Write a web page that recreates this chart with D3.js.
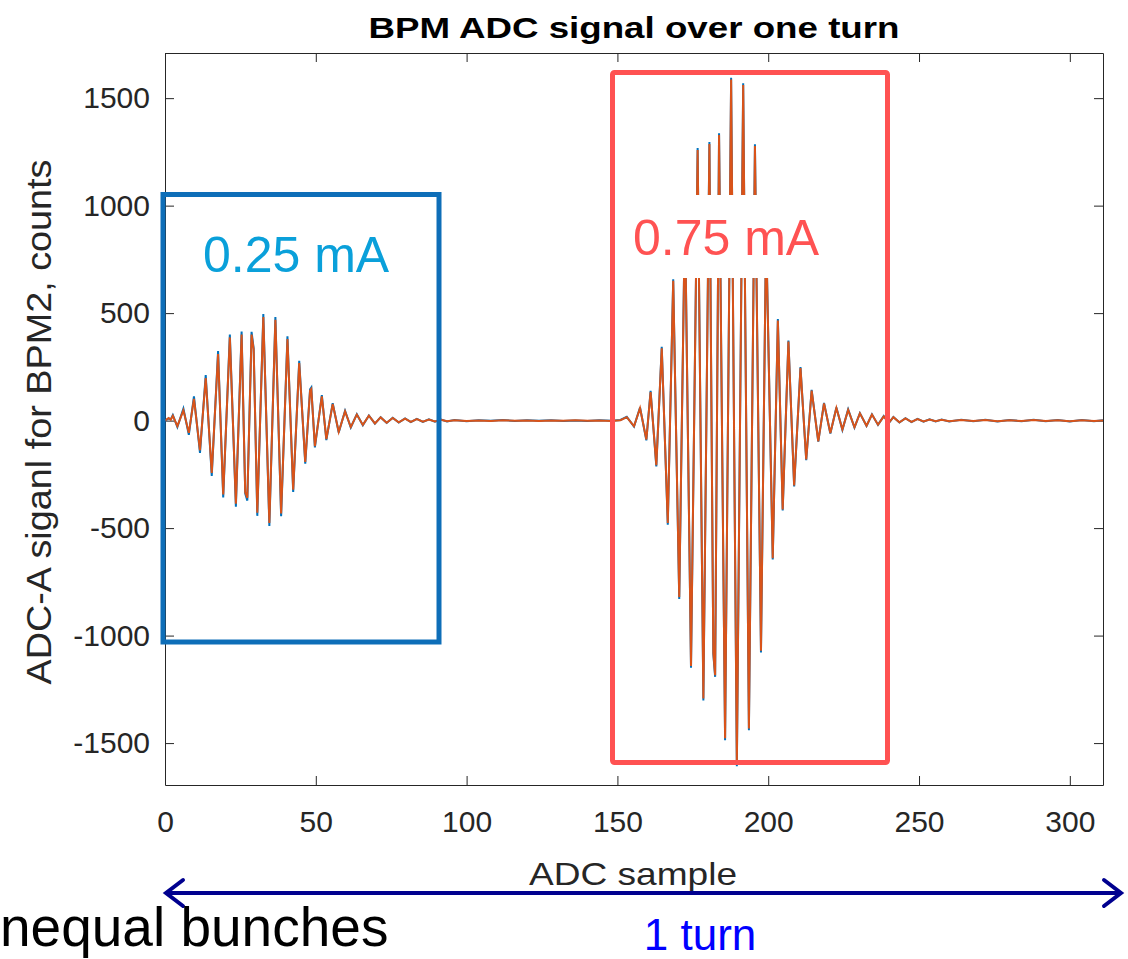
<!DOCTYPE html>
<html>
<head>
<meta charset="utf-8">
<script src="https://cdn.jsdelivr.net/npm/d3@7"></script>
<style>
  body { margin: 0; background: #fff; }
  svg { display: block; font-family: "Liberation Sans", Arial, sans-serif; }
</style>
</head>
<body>
<div id="chart"></div>
<script>
// vertices of the trace (ADC sample index)
const samples = [
  0, 1.2, 1.9, 2.6, 4.1, 6.1, 7.9, 9.6, 11.6, 13.5,
  15.5, 17.6, 19.3, 21.5, 23.5, 25.4, 26.6, 27.3, 28.7, 29.4,
  30.6, 32.6, 34.6, 36.6, 38.5, 40.6, 42.5, 44.5, 46.5, 48.1,
  48.5, 49.7, 52, 53.5, 55.6, 57.6, 59.7, 61.6, 63.6, 65.6,
  67.6, 69.6, 71.5, 73.5, 75.5, 77.5, 79.6, 81.5, 83.5, 85.5,
  87.5, 89.5, 91.5, 93.5, 96, 100, 104, 108, 112, 116,
  120, 124, 128, 132, 136, 140, 144, 148, 151, 153.1,
  155.5, 157.5, 159.6, 161, 162.9, 164.7, 166.7, 168.5, 170.5, 172.4,
  174.4, 176.6, 178.5, 180.5, 181.8, 182.4, 183.7, 185.7, 187.7, 189.6,
  191.7, 193.6, 195.6, 197.6, 199.3, 201.5, 203.2, 204.8, 206.7, 208.6,
  210.7, 212.6, 214.4, 216.6, 218.5, 220.6, 222.6, 224.6, 226.5, 228.6,
  230.4, 232.6, 234.4, 236.4, 238.3, 240, 241.5, 243.5, 245.5, 247.5,
  249.5, 251.5, 253.5, 255.5, 257.5, 260, 264, 268, 272, 276,
  280, 284, 288, 292, 296, 300, 304, 308, 311
];

// ADC-A counts, first trace (blue)
const adcBlue = [
  0, 10, 6, 26, -30, 56, -66, 113, -150, 212,
  -257, 324, -358, 400, -400, 414, -340, -372, 413, 336,
  -443, 496, -490, 482, -445, 392, -332, 278, -200, 146,
  154, -125, 119, -91, 81, -55, 46, -32, 30, -22,
  24, -14, 16, -11, 13, -9, 10, -7, 8, -6,
  6, -5, 5, -4, 3, -3, 2, -1, 3, -2,
  2, -1, 2, -2, 1, -2, 2, -1, 3, 18,
  -28, 61, -92, 138, -213, 343, -484, 658, -830, 968,
  -1150, 1268, -1302, 1296, -1086, -1192, 1337, -1487, 1595, -1608,
  1569, -1440, 1285, -1079, 886, -646, 472, -418, 373, -306,
  249, -184, 143, -98, 82, -60, 61, -43, 52, -32,
  35, -25, 29, -20, 21, -11, 17, -9, 11, -7,
  8, -5, 6, -4, 5, -4, 4, -3, 4, -4,
  3, -3, 4, -3, 3, -4, 3, -3, 2
];

// ADC-A counts, second trace (orange)
const adcOrange = [
  0, 12, 4, 22, -26, 48, -57, 101, -138, 198,
  -243, 310, -344, 387, -387, 400, -333, -359, 400, 330,
  -429, 482, -476, 469, -432, 380, -321, 268, -192, 140,
  147, -119, 113, -86, 77, -52, 43, -30, 28, -20,
  23, -13, 15, -10, 12, -8, 9, -6, 7, -5,
  5, -4, 4, -3, 2, -2, 1, -2, 2, -1,
  1, -2, 1, -1, 2, -1, 1, -2, 2, 16,
  -26, 58, -88, 133, -207, 336, -476, 650, -821, 960,
  -1141, 1259, -1293, 1287, -1080, -1184, 1328, -1478, 1587, -1600,
  1561, -1432, 1277, -1071, 880, -640, 466, -413, 368, -302,
  245, -181, 140, -96, 80, -58, 59, -41, 50, -31,
  34, -24, 28, -19, 20, -10, 16, -8, 10, -6,
  7, -4, 5, -3, 4, -3, 3, -2, 3, -3,
  2, -2, 3, -2, 2, -3, 2, -2, 1
];

const xTicks = [0, 50, 100, 150, 200, 250, 300];
const yTicks = [-1500, -1000, -500, 0, 500, 1000, 1500];

const width = 1128, height = 959;
const plotLeft = 165, plotRight = 1103, plotTop = 53, plotBottom = 785;
const axisColor = "#262626";

const svg = d3.select("#chart")
    .append("svg")
    .attr("width", width)
    .attr("height", height);

const x = d3.scaleLinear()
    .domain([0, 311])
    .range([plotLeft, plotRight]);

const y = d3.scaleLinear()
    .domain([-1695, 1710])
    .range([plotBottom, plotTop]);

// axes, ticks pointing inward, box on
function styleAxis(g) {
    g.selectAll("path, line").attr("stroke", axisColor);
    g.selectAll("text").attr("fill", axisColor).style("font-size", "30px");
}

svg.append("g")
    .attr("transform", `translate(0,${plotBottom})`)
    .call(d3.axisBottom(x).tickValues(xTicks).tickFormat(d => String(d))
        .tickSizeInner(-9).tickSizeOuter(0).tickPadding(26))
    .call(styleAxis);

svg.append("g")
    .attr("transform", `translate(0,${plotTop})`)
    .call(d3.axisTop(x).tickValues(xTicks).tickSizeInner(-9).tickSizeOuter(0).tickFormat(() => ""))
    .call(styleAxis);

svg.append("g")
    .attr("transform", `translate(${plotLeft},0)`)
    .call(d3.axisLeft(y).tickValues(yTicks).tickFormat(d => String(d))
        .tickSizeInner(-9).tickSizeOuter(0).tickPadding(15))
    .call(styleAxis);

svg.append("g")
    .attr("transform", `translate(${plotRight},0)`)
    .call(d3.axisRight(y).tickValues(yTicks).tickSizeInner(-9).tickSizeOuter(0).tickFormat(() => ""))
    .call(styleAxis);

// traces
svg.append("clipPath")
    .attr("id", "plot-clip")
    .append("rect")
    .attr("x", plotLeft)
    .attr("y", plotTop)
    .attr("width", plotRight - plotLeft)
    .attr("height", plotBottom - plotTop);

const line = d3.line()
    .x(d => x(d[0]))
    .y(d => y(d[1]));

const series = [
    {name: "blue", values: adcBlue, color: "#0072BD"},
    {name: "orange", values: adcOrange, color: "#D95319"}
];

svg.append("g")
    .attr("clip-path", "url(#plot-clip)")
    .selectAll("path")
    .data(series)
    .enter()
    .append("path")
    .attr("d", s => line(samples.map((v, i) => [v, s.values[i]])))
    .attr("fill", "none")
    .attr("stroke", s => s.color)
    .attr("stroke-width", 2);

// title and axis labels
svg.append("text")
    .attr("x", (plotLeft + plotRight) / 2)
    .attr("y", 38)
    .attr("text-anchor", "middle")
    .attr("font-weight", "bold")
    .attr("textLength", 531)
    .attr("lengthAdjust", "spacingAndGlyphs")
    .style("font-size", "30px")
    .attr("fill", "#000")
    .text("BPM ADC signal over one turn");

svg.append("text")
    .attr("x", 633)
    .attr("y", 885)
    .attr("text-anchor", "middle")
    .attr("textLength", 208)
    .attr("lengthAdjust", "spacingAndGlyphs")
    .style("font-size", "32px")
    .attr("fill", axisColor)
    .text("ADC sample");

svg.append("text")
    .attr("transform", "translate(51,422) rotate(-90)")
    .attr("text-anchor", "middle")
    .attr("textLength", 525)
    .attr("lengthAdjust", "spacingAndGlyphs")
    .style("font-size", "35px")
    .attr("fill", axisColor)
    .text("ADC-A siganl for BPM2, counts");

// bunch boxes and labels
svg.append("rect")
    .attr("x", 163).attr("y", 194.5)
    .attr("width", 276).attr("height", 447.5)
    .attr("fill", "none")
    .attr("stroke", "#0E6EB8")
    .attr("stroke-width", 5);

svg.append("rect")
    .attr("x", 612.5).attr("y", 72.5)
    .attr("width", 275).attr("height", 690)
    .attr("rx", 2)
    .attr("fill", "none")
    .attr("stroke", "#FF5252")
    .attr("stroke-width", 5);

svg.append("rect")
    .attr("x", 628).attr("y", 195)
    .attr("width", 204).attr("height", 83)
    .attr("fill", "#fff");

svg.append("text")
    .attr("x", 203).attr("y", 272)
    .style("font-size", "50px")
    .attr("fill", "#0AA0DA")
    .text("0.25 mA");

svg.append("text")
    .attr("x", 633).attr("y", 255)
    .style("font-size", "50px")
    .attr("fill", "#FF5252")
    .text("0.75 mA");

// one-turn arrow
const arrowColor = "#00008F";
svg.append("line")
    .attr("x1", 168).attr("x2", 1119)
    .attr("y1", 893).attr("y2", 893)
    .attr("stroke", arrowColor)
    .attr("stroke-width", 4);

svg.append("polyline")
    .attr("points", "183,880 166,893 183,906")
    .attr("fill", "none")
    .attr("stroke", arrowColor)
    .attr("stroke-width", 4)
    .attr("stroke-linecap", "round");

svg.append("polyline")
    .attr("points", "1104,880 1121,893 1104,906")
    .attr("fill", "none")
    .attr("stroke", arrowColor)
    .attr("stroke-width", 4)
    .attr("stroke-linecap", "round");

svg.append("text")
    .attr("x", 700).attr("y", 950)
    .attr("text-anchor", "middle")
    .style("font-size", "44px")
    .attr("fill", "#0000FF")
    .text("1 turn");

svg.append("text")
    .attr("x", 0).attr("y", 946)
    .style("font-size", "55px")
    .attr("fill", "#000")
    .text("nequal bunches");
</script>
</body>
</html>
